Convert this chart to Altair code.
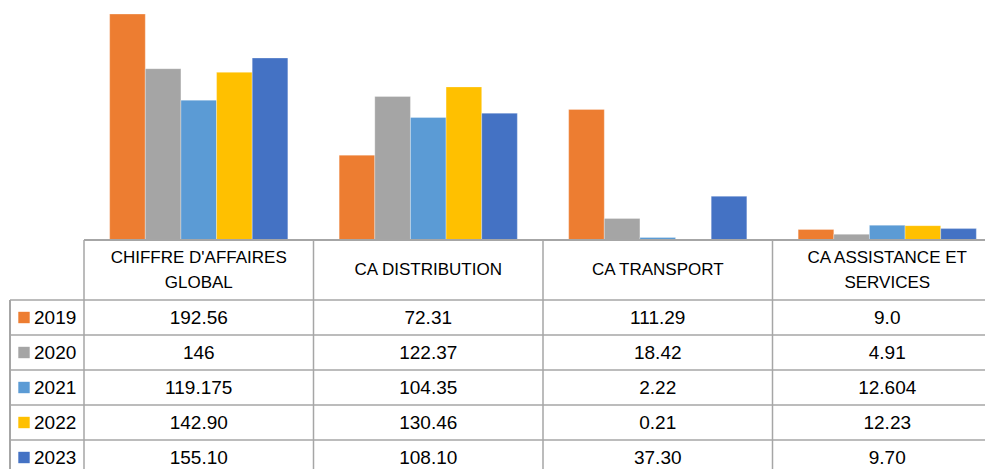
import altair as alt
import pandas as pd

categories = ["CHIFFRE D'AFFAIRES\nGLOBAL", "CA DISTRIBUTION", "CA TRANSPORT", "CA ASSISTANCE ET\nSERVICES"]
years = ["2019", "2020", "2021", "2022", "2023"]
colors = ["#ED7D31", "#A5A5A5", "#5B9BD5", "#FFC000", "#4472C4"]

# table labels, by year, in category order
labels_2019 = ["192.56", "72.31", "111.29", "9.0"]
labels_2020 = ["146", "122.37", "18.42", "4.91"]
labels_2021 = ["119.175", "104.35", "2.22", "12.604"]
labels_2022 = ["142.90", "130.46", "0.21", "12.23"]
labels_2023 = ["155.10", "108.10", "37.30", "9.70"]

all_labels = [labels_2019, labels_2020, labels_2021, labels_2022, labels_2023]

rows = []
for y, labs in zip(years, all_labels):
    for c, l in zip(categories, labs):
        rows.append({"cat": c, "year": y, "label": l, "value": float(l)})
df = pd.DataFrame(rows)
df_years = pd.DataFrame({"year": years})
df_cats = pd.DataFrame({"cat": categories})

FONT = "Liberation Sans"
LINE = "#a6a6a6"

xscale = alt.Scale(domain=categories, range=[76, 994], paddingInner=0, paddingOuter=0)
color_scale = alt.Scale(domain=years, range=colors)
rowscale = alt.Scale(domain=years, range=[292, 467], paddingInner=0, paddingOuter=0)

bars = alt.Chart(df).mark_bar(stroke="white", strokeWidth=0.5, strokeOpacity=0.6).encode(
    x=alt.X("cat:N", scale=xscale, axis=None, sort=categories),
    xOffset=alt.XOffset("year:N", scale=alt.Scale(domain=years, paddingInner=0, paddingOuter=0.72)),
    y=alt.Y("value:Q", scale=alt.Scale(domain=[0, 197.7], range=[232, 0], nice=False, zero=True), axis=None),
    color=alt.Color("year:N", scale=color_scale, legend=None),
)

# table header top line
top_line = alt.Chart(df_cats).mark_rule(color=LINE, strokeWidth=1.5).encode(
    x=alt.value(76), x2=alt.value(985), y=alt.value(232)
)

# vertical category boundaries
vlines = alt.Chart(df_cats).mark_rule(color=LINE, strokeWidth=1.5).encode(
    x=alt.X("cat:N", scale=xscale, bandPosition=0, axis=None, sort=categories),
    y=alt.value(232), y2=alt.value(470),
)

# header labels (two-line ones start higher so the block is centred)
header_multi = alt.Chart(df_cats).transform_filter(
    "indexof(datum.cat, '\\n') >= 0"
).mark_text(
    font=FONT, fontSize=17, lineBreak="\n", lineHeight=25, color="#000000", baseline="middle"
).encode(
    x=alt.X("cat:N", scale=xscale, axis=None, sort=categories),
    y=alt.value(250),
    text="cat:N",
)
header_single = alt.Chart(df_cats).transform_filter(
    "indexof(datum.cat, '\\n') < 0"
).mark_text(
    font=FONT, fontSize=17, color="#000000", baseline="middle"
).encode(
    x=alt.X("cat:N", scale=xscale, axis=None, sort=categories),
    y=alt.value(262),
    text="cat:N",
)

# row lines
hlines = alt.Chart(df_years).mark_rule(color=LINE, strokeWidth=1.5).encode(
    y=alt.Y("year:N", scale=rowscale, bandPosition=0, axis=None),
    x=alt.value(2), x2=alt.value(985),
)
left_line = alt.Chart(df_years).mark_rule(color=LINE, strokeWidth=1.5).encode(
    x=alt.value(2), y=alt.value(292), y2=alt.value(470)
)

cells = alt.Chart(df).mark_text(font=FONT, fontSize=19, color="#000000", baseline="middle").encode(
    x=alt.X("cat:N", scale=xscale, axis=None, sort=categories),
    y=alt.Y("year:N", scale=rowscale, axis=None),
    text="label:N",
)

swatches = alt.Chart(df_years).mark_point(shape="square", filled=True, size=130, opacity=1).encode(
    x=alt.value(16),
    y=alt.Y("year:N", scale=rowscale, axis=None),
    color=alt.Color("year:N", scale=color_scale, legend=None),
)
year_text = alt.Chart(df_years).mark_text(font=FONT, fontSize=19, color="#000000", align="left", baseline="middle").encode(
    x=alt.value(26),
    y=alt.Y("year:N", scale=rowscale, axis=None),
    text="year:N",
)

table = alt.layer(hlines, left_line, cells, swatches, year_text)
top = alt.layer(bars, top_line, vlines, header_multi, header_single)

chart = alt.layer(top, table).resolve_scale(y="independent").properties(
    width=977, height=461, padding=0, autosize=alt.AutoSizeParams(type="none")
).configure_view(stroke=None)

chart.save("out.html", embed_options={"renderer": "svg", "actions": False})
